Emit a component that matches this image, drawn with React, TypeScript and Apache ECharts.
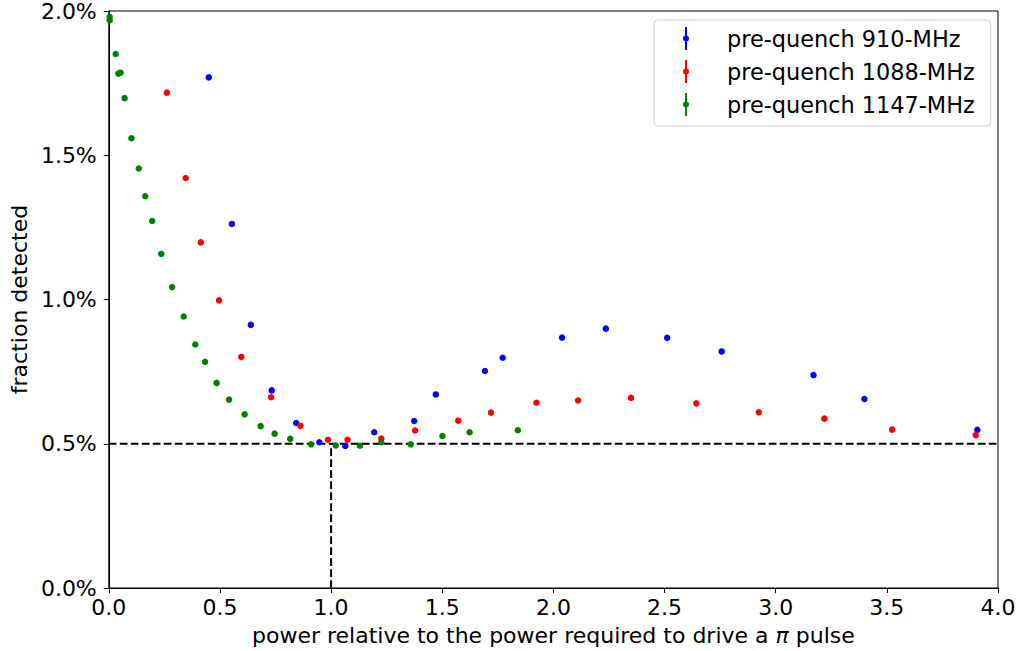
import React, { useEffect, useRef } from "react";
import * as echarts from "echarts";

const seriesNames = ["pre-quench 910-MHz", "pre-quench 1088-MHz", "pre-quench 1147-MHz"];
const seriesColors = ["#0000ff", "#ff0000", "#008000"];

const blue910: [number, number][] = [
  [0.450, 1.770], [0.554, 1.262], [0.639, 0.912], [0.733, 0.685], [0.843, 0.572],
  [0.947, 0.505], [1.064, 0.492], [1.194, 0.540], [1.374, 0.579], [1.471, 0.671],
  [1.692, 0.752], [1.772, 0.798], [2.039, 0.868], [2.236, 0.899], [2.512, 0.867],
  [2.757, 0.820], [3.170, 0.738], [3.399, 0.655], [3.907, 0.548],
];

const red1088: [number, number][] = [
  [0.261, 1.717], [0.346, 1.421], [0.414, 1.198], [0.496, 0.997], [0.596, 0.801],
  [0.730, 0.661], [0.862, 0.562], [0.986, 0.514], [1.074, 0.514], [1.226, 0.518],
  [1.378, 0.546], [1.572, 0.580], [1.719, 0.608], [1.924, 0.642], [2.111, 0.650],
  [2.349, 0.659], [2.643, 0.640], [2.924, 0.609], [3.219, 0.587], [3.524, 0.549],
  [3.900, 0.530],
];

const green1147: [number, number][] = [
  [0.004, 1.979], [0.004, 1.968], [0.031, 1.851], [0.043, 1.783], [0.053, 1.786],
  [0.071, 1.698], [0.102, 1.559], [0.135, 1.454], [0.164, 1.358], [0.195, 1.272],
  [0.236, 1.158], [0.285, 1.043], [0.337, 0.941], [0.389, 0.844], [0.433, 0.784],
  [0.485, 0.711], [0.541, 0.653], [0.611, 0.602], [0.683, 0.561], [0.746, 0.535],
  [0.816, 0.517], [0.910, 0.498], [1.021, 0.494], [1.130, 0.493], [1.226, 0.505],
  [1.358, 0.498], [1.501, 0.527], [1.623, 0.540], [1.840, 0.547],
];

const thresholdLine: [number, number][] = [[0, 0.5], [4, 0.5]];
const piLine: [number, number][] = [[1, 0], [1, 0.5]];

const FONT = "DejaVu Sans";
const ERRBAR_ICON =
  "path://M2,0 L4,0 L4,23 L2,23 Z M6,11.5 A3,3 0 1,1 0,11.5 A3,3 0 1,1 6,11.5 Z";

export default function App() {
  const ref = useRef<HTMLDivElement>(null);
  useEffect(() => {
    if (!ref.current) return;
    const chart = echarts.init(ref.current, undefined, { renderer: "svg" });
    const dataSets = [blue910, red1088, green1147];
    const scatterSeries = dataSets.map((d, i) => ({
      name: seriesNames[i],
      type: "scatter",
      data: d,
      symbol: "circle",
      symbolSize: 6.5,
      itemStyle: { color: seriesColors[i], opacity: 1 },
      z: 3,
    }));
    const dashStyle = { color: "#000", width: 2, type: [7.7, 3.3] };
    chart.setOption({
      animation: false,
      backgroundColor: "#fff",
      textStyle: { fontFamily: FONT },
      grid: {
        left: 107,
        top: 9,
        right: 23,
        bottom: 63,
        show: true,
        borderColor: "#000",
        borderWidth: 1,
        backgroundColor: "transparent",
      },
      legend: {
        data: seriesNames,
        orient: "vertical",
        left: 654,
        top: 20,
        padding: [7, 16, 10, 29],
        itemGap: 10,
        itemWidth: 6,
        itemHeight: 23,
        icon: ERRBAR_ICON,
        borderColor: "#cccccc",
        borderWidth: 1,
        borderRadius: 4,
        backgroundColor: "rgba(255,255,255,0.8)",
        textStyle: {
          fontFamily: FONT,
          fontSize: 22.4,
          color: "#000",
          padding: [0, 0, 0, 33],
        },
      },
      xAxis: {
        type: "value",
        min: 0,
        max: 4,
        interval: 0.5,
        name: "power relative to the power required to drive a {i|π} pulse",
        nameLocation: "middle",
        nameGap: 36,
        nameTextStyle: {
          fontFamily: FONT,
          fontSize: 22,
          color: "#000",
          rich: { i: { fontFamily: FONT, fontSize: 22, fontStyle: "italic", color: "#000" } },
        },
        axisLine: { show: true, lineStyle: { color: "#000", width: 1 } },
        axisTick: { show: true, length: 5, lineStyle: { color: "#000" } },
        axisLabel: {
          margin: 8,
          fontFamily: FONT,
          fontSize: 22,
          color: "#000",
          formatter: (v: number) => v.toFixed(1),
        },
        splitLine: { show: false },
      },
      yAxis: {
        type: "value",
        min: 0,
        max: 2,
        interval: 0.5,
        name: "fraction detected",
        nameLocation: "middle",
        nameGap: 72,
        nameTextStyle: { fontFamily: FONT, fontSize: 22, color: "#000" },
        axisLine: { show: true, lineStyle: { color: "#000", width: 1 } },
        axisTick: { show: true, length: 5, lineStyle: { color: "#000" } },
        axisLabel: {
          margin: 12,
          fontFamily: FONT,
          fontSize: 22,
          color: "#000",
          formatter: (v: number) => v.toFixed(1) + "%",
        },
        splitLine: { show: false },
      },
      series: [
        ...scatterSeries,
        {
          name: "threshold",
          type: "line",
          data: thresholdLine,
          symbol: "none",
          lineStyle: dashStyle,
          z: 2,
          silent: true,
        },
        {
          name: "pi",
          type: "line",
          data: piLine,
          symbol: "none",
          lineStyle: dashStyle,
          z: 2,
          silent: true,
        },
      ],
    });
    return () => chart.dispose();
  }, []);
  return (
    <div
      ref={ref}
      style={{ position: "fixed", left: 0, top: 0, width: 1021, height: 651 }}
    />
  );
}
